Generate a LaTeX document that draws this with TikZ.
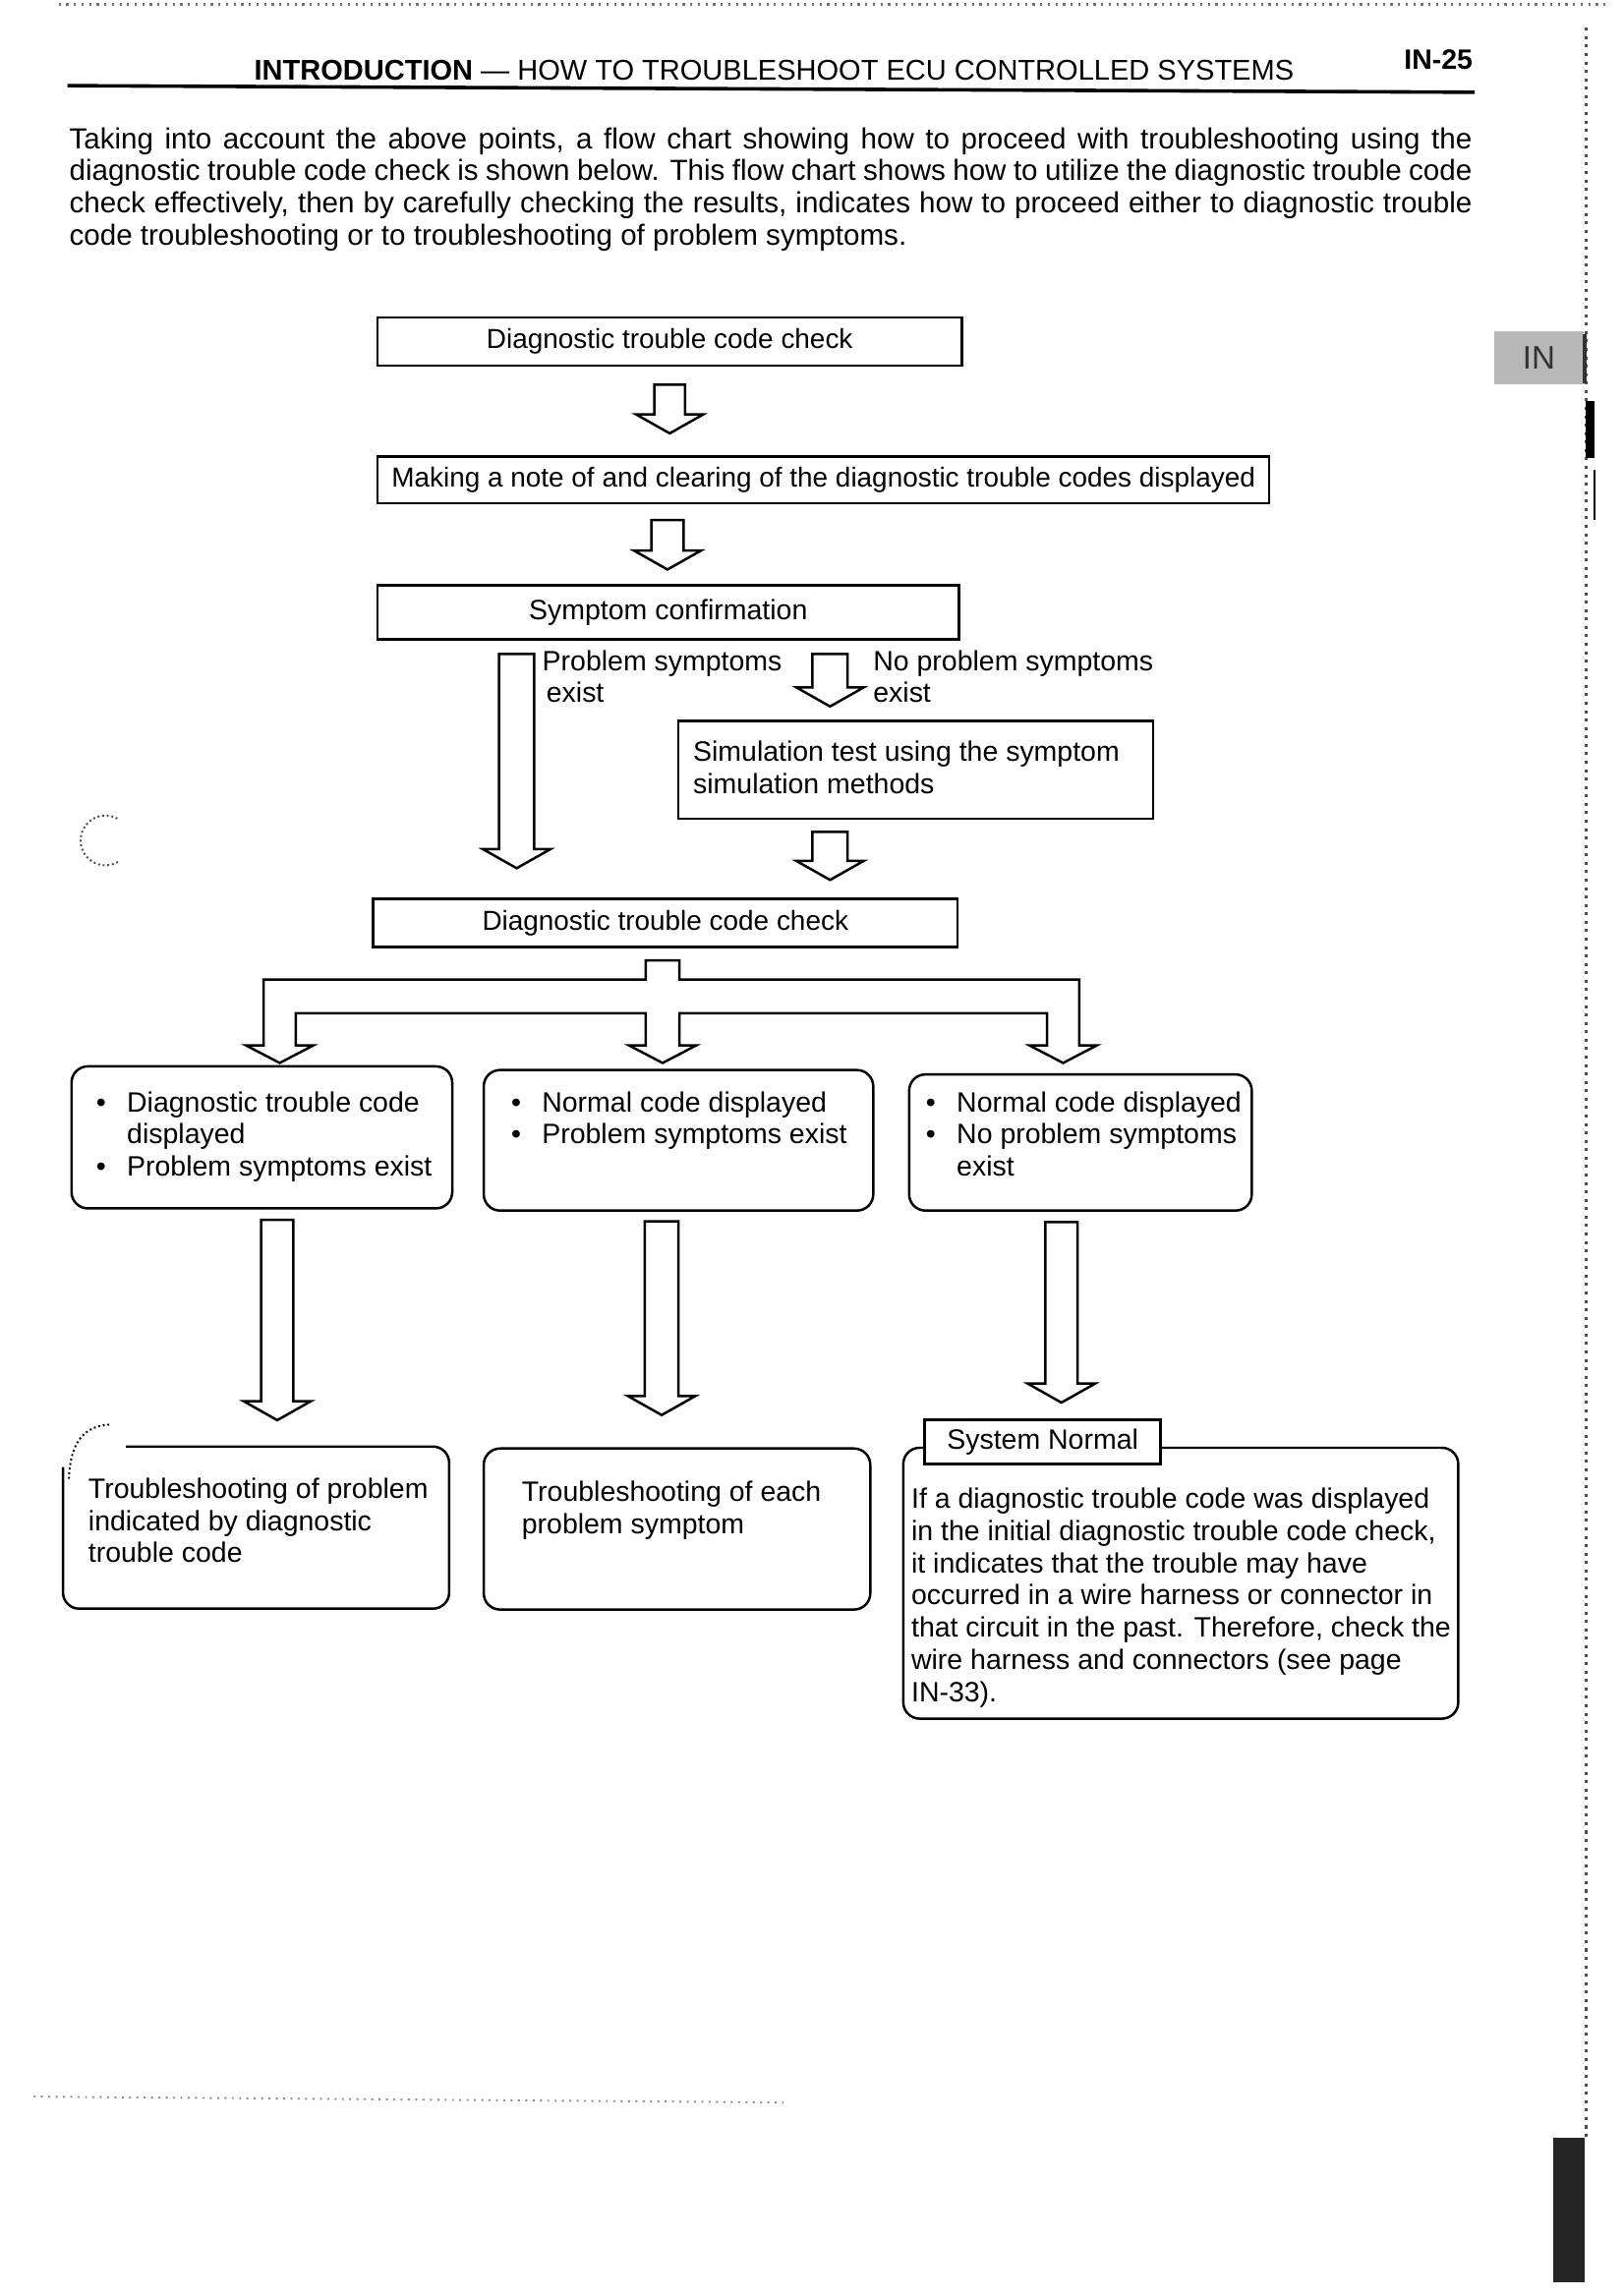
\documentclass[tikz,border=0pt]{standalone}
\usepackage{fontspec}
\setmainfont{Liberation Sans}
\usetikzlibrary{calc}
\newcommand{\pxu}{0.018936cm}
\newcommand{\fs}{\fontsize{10.3}{11.85}\selectfont}
\newcommand{\fsn}{\fontsize{10.1}{11.85}\selectfont}
\newcommand{\fp}{\fontsize{10.7}{11.85}\selectfont}
\newcommand{\bul}{\makebox[11.3pt][l]{\textbullet}}
\newcommand{\bulsp}{\hspace*{11.3pt}}
\newcommand{\varrow}[3][11]{%
  \draw[barrow] let \p1=(#2), \p2=(#3) in
   (\x1-#1*\pxu,\y1) -- (\x1-#1*\pxu,\y2+13*\pxu) -- (\x1-23*\pxu,\y2+13*\pxu)
   -- (\x1,\y2) -- (\x1+23*\pxu,\y2+13*\pxu) -- (\x1+#1*\pxu,\y2+13*\pxu)
   -- (\x1+#1*\pxu,\y1) -- cycle;}
\tikzset{
  bsize/.style 2 args={minimum width={#1*\pxu}, minimum height={#2*\pxu}},
  box/.style={draw, line width=0.9pt, inner sep=0pt, anchor=north west, font=\fs, align=center},
  rbox/.style={box, rounded corners=6pt},
  barrow/.style={draw, line width=0.9pt, fill=white, line join=miter},
  txt/.style={inner sep=0pt, anchor=north west, align=left, font=\fs},
}
\begin{document}
\begin{tikzpicture}[x=\pxu, y=-\pxu]
\fill[white] (0,0) rectangle (1109,1568.2);
\useasboundingbox (0,0) rectangle (1109,1568.2);

% ---------- header ----------
\node[anchor=base, inner sep=0pt, font=\fontsize{10.5}{12}\selectfont] (hdr) at (528.6,54.8)
  {\textbf{INTRODUCTION} --- HOW TO TROUBLESHOOT ECU CONTROLLED SYSTEMS};
\node[anchor=base east, inner sep=0pt, font=\fontsize{10.3}{12}\selectfont\bfseries] (pgno) at (1006,47.5) {IN-25};
\draw[line width=1.3pt] (46,58.5) -- (1007,63);

% ---------- intro paragraph ----------
\node[anchor=north west, inner sep=0pt, align=left, font=\fp] (intro) at (47,85.6) {%
\strut\makebox[18.14cm][s]{Taking into account the above points, a flow chart showing how to proceed with troubleshooting using the}\\
\makebox[18.14cm][s]{diagnostic trouble code check is shown below. This flow chart shows how to utilize the diagnostic trouble code}\\
\makebox[18.14cm][s]{check effectively, then by carefully checking the results, indicates how to proceed either to diagnostic trouble}\\
code troubleshooting or to troubleshooting of problem symptoms.};

% ---------- upper flow ----------
\node[box, bsize={399}{33}, font=\fsn] (dtc1) at (257,216) {Diagnostic trouble code check};
\node[box, bsize={609}{32}, font=\fsn] (note) at (257,311) {Making a note of and clearing of the diagnostic trouble codes displayed};
\node[box, bsize={397}{37}] (symc) at (257,399) {Symptom confirmation};
\node[box, bsize={324}{67}] (sim) at (462.5,491.5) {};
\node[txt] (simt) at (473,504) {\strut Simulation test using the symptom\\simulation methods};
\node[box, bsize={399}{33}, font=\fsn] (dtc2) at (254,613) {Diagnostic trouble code check};

\node[txt] (lbl1) at (370,442.2) {\strut Problem symptoms\\\hspace*{1.5pt}exist};
\node[txt] (lbl2) at (596,442.2) {\strut No problem symptoms\\exist};

\coordinate (a1s) at ($(dtc1.south)+(0,12)$);
\coordinate (a1e) at ($(a1s |- note.north)+(0,-15)$);
\varrow[10.5]{a1s}{a1e}
\coordinate (a2s) at ($(note.south -| a1s)+(-1.5,10.5)$);
\coordinate (a2e) at ($(a2s |- symc.north)+(0,-10)$);
\varrow[11]{a2s}{a2e}
\coordinate (a3s) at ($(symc.south)+(-103.5,9)$);
\coordinate (a3e) at ($(a3s |- dtc2.north)+(0,-20)$);
\varrow[12]{a3s}{a3e}
\coordinate (a4s) at ($(symc.south)+(110.5,9)$);
\coordinate (a4e) at ($(a4s |- sim.north)+(0,-9)$);
\varrow[12]{a4s}{a4e}
\coordinate (a5s) at ($(sim.south -| a4s)+(0,8)$);
\coordinate (a5e) at ($(a5s |- dtc2.north)+(0,-12)$);
\varrow[12]{a5s}{a5e}

% ---------- branch ----------
\coordinate (brt) at ($(dtc2.south)+(-1,10)$);
\draw[barrow] (441,656) -- (464,656) -- (464,669) -- (737,669) -- (737,714) -- (749,714)
  -- (726,726) -- (703,714) -- (715,714) -- (715,692) -- (464,692) -- (464,714)
  -- (475.5,714) -- (452.5,726) -- (429.5,714) -- (441,714) -- (441,692) -- (202,692)
  -- (202,714) -- (214,714) -- (191,726) -- (168,714) -- (180,714) -- (180,669)
  -- (441,669) -- cycle;

% ---------- row 1 ----------
\node[rbox, bsize={260}{97}] (f1) at (48,727.5) {};
\node[rbox, bsize={266}{96}] (f2) at (329.5,730) {};
\node[rbox, bsize={234}{93}] (f3) at (620,733) {};
\node[txt] (f1t) at (65.4,743.5) {\strut\bul Diagnostic trouble code\\\bulsp displayed\\\bul Problem symptoms exist};
\node[txt] (f2t) at (348.8,743.5) {\strut\bul Normal code displayed\\\bul Problem symptoms exist};
\node[txt] (f3t) at (632,743.5) {\strut\bul Normal code displayed\\\bul No problem symptoms\\\bulsp exist};

% ---------- row 2 ----------
\node[inner sep=0pt, anchor=north west, bsize={263}{110}] (g1) at (43,988) {};
\draw[line width=0.9pt, rounded corners=6pt] (86,988) -- (g1.north east) -- (g1.south east)
  -- (g1.south west) -- ($(g1.north west)+(0,14)$);
\draw[densely dotted, line width=0.7pt] ($(g1.north west)+(4,22)$) .. controls ($(g1.north west)+(5,0)$) and ($(g1.north west)+(12,-14)$) .. ($(g1.north west)+(32,-15)$);
\node[rbox, bsize={264}{110}] (g2) at (329.5,988.5) {};
\node[rbox, bsize={379}{185}] (g3) at (616,988) {};
\node[box, fill=white, bsize={161}{30}, line width=1.1pt] (sn) at (630.5,969) {System Normal};

\node[txt] (g1t) at (60,1007.6) {\strut Troubleshooting of problem\\indicated by diagnostic\\trouble code};
\node[txt] (g2t) at (356,1009.6) {\strut Troubleshooting of each\\problem symptom};
\node[txt] (g3t) at (622,1014.4) {\strut If a diagnostic trouble code was displayed\\
in the initial diagnostic trouble code check,\\
it indicates that the trouble may have\\
occurred in a wire harness or connector in\\
that circuit in the past. Therefore, check the\\
wire harness and connectors (see page\\
IN-33).};

\coordinate (b1s) at ($(f1.south)+(10.5,7)$);
\coordinate (b1e) at ($(b1s |- g1.north)+(0,-18)$);
\varrow[11]{b1s}{b1e}
\coordinate (b2s) at ($(f2.south)+(-11.5,6.5)$);
\coordinate (b2e) at ($(b2s |- g2.north)+(0,-22)$);
\varrow[11.5]{b2s}{b2e}
\coordinate (b3s) at ($(f3.south)+(-13,7)$);
\coordinate (b3e) at ($(b3s |- sn.north)+(0,-11)$);
\varrow[11]{b3s}{b3e}

% ---------- page edge marks ----------
\draw[dotted, line width=0.8pt, black!55] (40,3) -- (1100,3);
\draw[dotted, line width=1.1pt, black!70] (1083,19) -- (1083,1460);
\node[fill=black!28, inner sep=0pt, anchor=north west, bsize={61}{36},
      font=\fontsize{12}{12}\selectfont, text=black!80] (tab) at (1020,226) {IN};
\draw[line width=1.6pt, black!80] (1082,228) -- (1082,262);
\fill[black] (1083,274) rectangle (1089,313);
\draw[line width=0.8pt] (1089,321) -- (1089,355);
\fill[black!85] (1061,1460) rectangle (1082,1559);
\draw[dotted, line width=0.7pt, black!45] (23,1432) -- (535,1436);
\draw[densely dotted, line width=0.7pt, black!70] (72,574) ++(60:17) arc (60:300:17);
\end{tikzpicture}
\end{document}
